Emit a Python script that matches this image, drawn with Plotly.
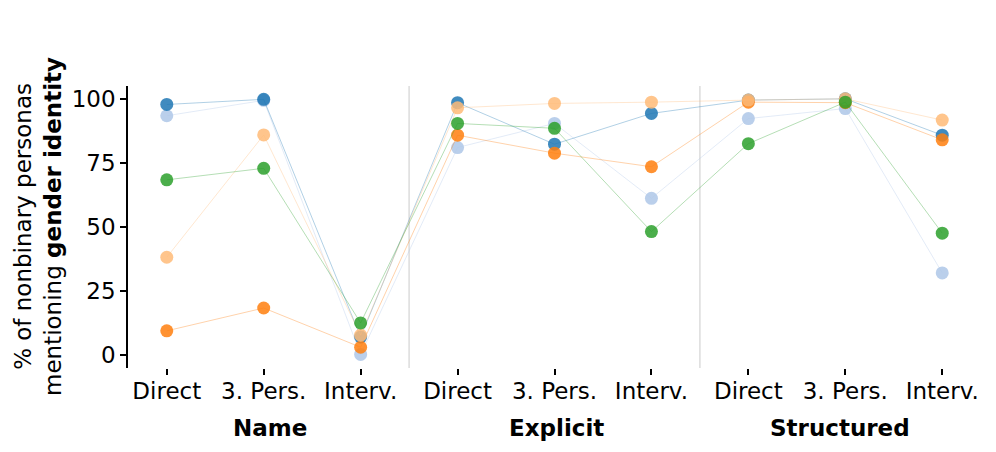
import plotly.graph_objects as go

# ---- data ----
groups = ["Name", "Explicit", "Structured"]
conditions = ["Direct", "3. Pers.", "Interv."]
tick_labels = conditions * 3

series_names = ["light blue", "dark blue", "dark orange", "light orange", "green"]
light_blue = [93.4, 99.4, 0.3, 81.0, 90.4, 61.2, 92.3, 96.2, 32.1]
dark_blue = [97.8, 99.8, 7.1, 98.5, 82.3, 94.3, 99.5, 100.0, 85.8]
dark_orange = [9.5, 18.4, 3.1, 85.8, 78.8, 73.5, 98.7, 98.5, 84.0]
light_orange = [38.2, 85.9, 7.8, 96.5, 98.2, 98.7, 99.5, 100.0, 91.7]
green = [68.4, 72.9, 12.6, 90.4, 88.5, 48.2, 82.5, 98.7, 47.6]

y_ticks = [0, 25, 50, 75, 100]

# ---- styling ----
colors = {
    "light blue": (174, 199, 232),
    "dark blue": (31, 119, 180),
    "dark orange": (255, 127, 14),
    "light orange": (255, 187, 120),
    "green": (44, 160, 44),
}
values = {
    "light blue": light_blue,
    "dark blue": dark_blue,
    "dark orange": dark_orange,
    "light orange": light_orange,
    "green": green,
}
# small horizontal nudges of the group labels (layout only)
group_label_shift = [0.07, 0.02, -0.05]

FONT = "DejaVu Sans"
FS = 23
xs = list(range(len(tick_labels)))

fig = go.Figure()
for name in series_names:
    r, g, b = colors[name]
    fig.add_trace(go.Scatter(
        x=xs, y=values[name], mode="lines+markers", name=name,
        line=dict(color=f"rgba({r},{g},{b},0.35)", width=1),
        marker=dict(color=f"rgba({r},{g},{b},0.85)", size=13, line=dict(width=0)),
        showlegend=False,
    ))

# group separators
n_per = len(conditions)
for k in range(1, len(groups)):
    fig.add_shape(type="line", xref="x", yref="paper",
                  x0=k * n_per - 0.5, x1=k * n_per - 0.5, y0=0, y1=1,
                  line=dict(color="#dcdcdc", width=1.5), layer="below")

# group labels
for k, gname in enumerate(groups):
    fig.add_annotation(text=f"<b>{gname}</b>", xref="x", yref="paper",
                       x=k * n_per + (n_per - 1) / 2 + group_label_shift[k], y=-0.211,
                       yanchor="middle", showarrow=False,
                       font=dict(family=FONT, size=FS, color="black"))

# y title
fig.add_annotation(text="% of nonbinary personas<br>mentioning <b>gender identity</b>",
                   xref="paper", yref="paper", x=-0.1055, y=0.5,
                   xanchor="center", yanchor="middle", textangle=-90,
                   showarrow=False, font=dict(family=FONT, size=FS, color="black"))

fig.update_layout(
    width=996, height=452,
    margin=dict(l=128, r=15, t=86, b=84),
    paper_bgcolor="white", plot_bgcolor="white",
    font=dict(family=FONT, size=FS, color="black"),
    xaxis=dict(
        range=[-0.4, len(xs) - 1 + 0.4], tickmode="array", tickvals=xs, ticktext=tick_labels,
        showgrid=False, zeroline=False, showline=False,
        ticks="outside", ticklen=6, tickwidth=1.5, tickcolor="black",
        ticklabelstandoff=-4,
        tickfont=dict(family=FONT, size=FS, color="black"),
    ),
    yaxis=dict(
        range=[-5, 105], tickmode="array", tickvals=y_ticks,
        showgrid=False, zeroline=False, showline=True, linecolor="black", linewidth=1.5,
        ticks="outside", ticklen=6, tickwidth=1.5, tickcolor="black",
        tickfont=dict(family=FONT, size=FS, color="black"),
    ),
)

fig.write_html("out.html", config={"displayModeBar": False},
               post_script="document.body.style.margin='0';")
